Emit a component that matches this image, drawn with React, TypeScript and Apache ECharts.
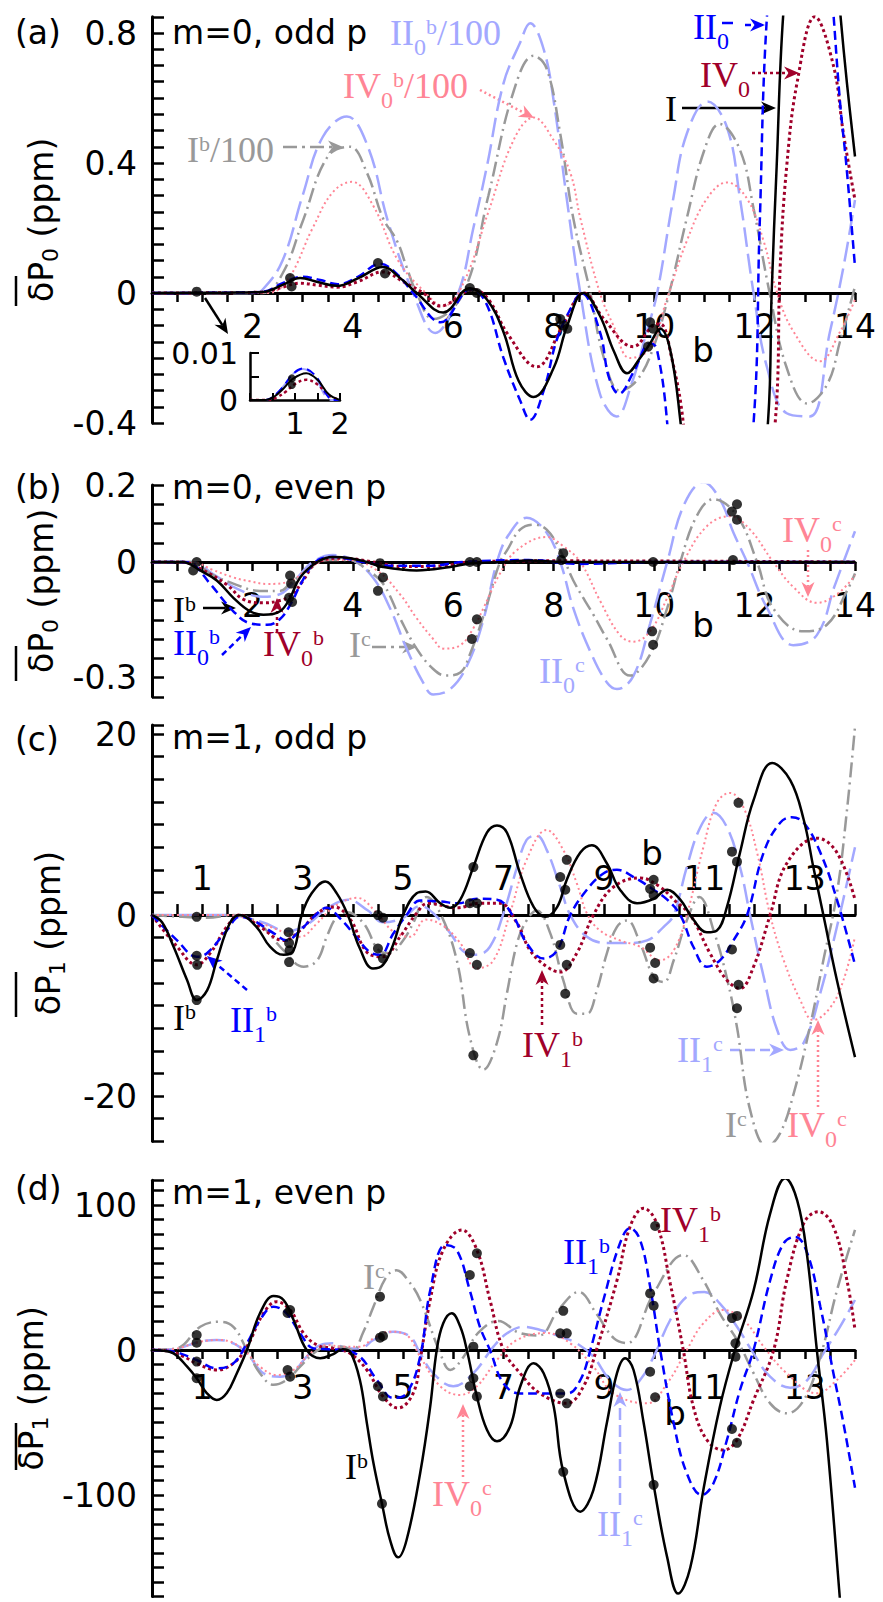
import React, { useEffect, useRef } from 'react';
import * as echarts from 'echarts';

const W = 883;
const H = 1602;

// ---------------- Panel (a): m=0, odd p ----------------
const a_I = [[0,0],[1.5,0.001],[2.2,0.003],[2.6,0.025],[2.95,0.046],[3.3,0.034],[3.68,0.022],[4.1,0.045],[4.6,0.08],[4.95,0.045],[5.27,0],[5.8,-0.06],[6.33,0.015],[6.67,-0.02],[7.0,-0.12],[7.3,-0.27],[7.6,-0.32],[8.0,-0.23],[8.27,-0.1],[8.59,0],[8.92,-0.07],[9.2,-0.18],[9.46,-0.247],[9.72,-0.2],[9.92,-0.155],[10.12,-0.11],[10.32,-0.175],[10.52,-0.39],[11.4,-1.6],[12.27,-0.39],[12.34,0],[12.44,0.39],[12.57,0.855],[13.1,1.9],[13.71,0.855],[13.84,0.645],[14,0.42]];
const a_II = [[0,0],[1.5,0.001],[2.2,0.004],[2.6,0.03],[3.0,0.05],[3.35,0.04],[3.7,0.027],[4.1,0.05],[4.54,0.09],[4.9,0.055],[5.2,0],[5.75,-0.09],[6.35,0.012],[6.65,-0.03],[7.0,-0.2],[7.33,-0.33],[7.53,-0.39],[7.8,-0.3],[8.07,-0.14],[8.4,-0.03],[8.55,0],[8.92,-0.12],[9.1,-0.26],[9.3,-0.31],[9.6,-0.24],[9.92,-0.155],[10.05,-0.17],[10.26,-0.4],[11.1,-2.0],[11.98,-0.4],[12.1,0.2],[12.25,0.86],[12.9,2.2],[13.57,0.86],[13.7,0.59],[13.83,0.39],[14,0.08]];
const a_IV = [[0,0],[1.5,0.001],[2.2,0.003],[2.6,0.018],[2.95,0.03],[3.3,0.024],[3.68,0.018],[4.1,0.035],[4.6,0.065],[5.0,0.035],[5.4,0],[5.74,-0.04],[6.4,0.01],[6.7,-0.02],[7.1,-0.13],[7.66,-0.227],[8.15,-0.11],[8.6,0],[9.0,-0.08],[9.58,-0.165],[9.98,-0.1],[10.12,-0.095],[10.35,-0.2],[10.58,-0.4],[11.5,-1.8],[12.41,-0.4],[12.51,0.08],[12.64,0.39],[12.85,0.65],[13.2,0.85],[13.57,0.7],[13.77,0.49],[14,0.286]];
const a_IIb100 = [[0,0],[0.9,0],[2.0,0],[2.2,0.01],[2.6,0.1],[3.0,0.3],[3.4,0.48],[3.88,0.543],[4.3,0.45],[4.7,0.22],[5.2,0],[5.64,-0.123],[6.1,0],[6.4,0.2],[6.67,0.39],[7.0,0.645],[7.33,0.77],[7.53,0.83],[7.8,0.75],[8.0,0.59],[8.26,0.29],[8.53,0],[8.92,-0.31],[9.25,-0.38],[9.55,-0.28],[9.85,-0.12],[10.06,0],[10.38,0.29],[10.65,0.49],[11.06,0.589],[11.45,0.51],[11.71,0.29],[11.98,0],[12.25,-0.23],[12.64,-0.37],[13.1,-0.38],[13.5,-0.12],[13.77,0.08],[14,0.286]];
const a_Ib100 = [[0,0],[2.2,0],[2.6,0.06],[3.0,0.22],[3.5,0.42],[3.94,0.45],[4.28,0.37],[4.6,0.23],[4.88,0.16],[5.07,0.08],[5.27,0],[5.6,-0.08],[6.2,0],[6.7,0.3],[7.2,0.62],[7.6,0.73],[7.86,0.69],[8.13,0.49],[8.39,0.23],[8.73,0],[9.0,-0.2],[9.32,-0.3],[9.65,-0.27],[9.98,-0.17],[10.3,0],[10.65,0.23],[11.0,0.44],[11.3,0.52],[11.71,0.44],[11.98,0.26],[12.3,0],[12.64,-0.23],[13.05,-0.34],[13.45,-0.28],[13.7,-0.15],[14,0.02]];
const a_IVb100 = [[0,0],[2.3,0],[2.7,0.04],[3.2,0.2],[3.6,0.31],[3.98,0.342],[4.4,0.27],[4.9,0.1],[5.45,0],[5.8,-0.04],[6.2,0.03],[6.7,0.25],[7.2,0.47],[7.6,0.54],[8.0,0.47],[8.33,0.37],[8.53,0.23],[8.92,0],[9.19,-0.1],[9.52,-0.2],[9.92,-0.17],[10.25,-0.02],[10.65,0.16],[11.05,0.29],[11.45,0.34],[11.85,0.29],[12.18,0.16],[12.45,0],[12.78,-0.12],[13.3,-0.21],[13.7,-0.12],[14,-0.02]];
const a_dots = [[0.89,0.004],[2.75,0.046],[2.78,0.02],[4.5,0.092],[4.64,0.06],[6.33,0.015],[6.47,0],[8.13,-0.08],[8.2,-0.1],[8.27,-0.11],[9.88,-0.165],[9.92,-0.09],[9.98,-0.11]];

// inset of (a)
const in_I = [[0,0],[0.35,0],[0.55,0.0008],[0.75,0.0025],[0.95,0.0045],[1.25,0.0057],[1.5,0.0043],[1.75,0.0012],[2,0]];
const in_II = [[0,0],[0.35,0],[0.55,0.001],[0.75,0.003],[0.95,0.0055],[1.18,0.0067],[1.45,0.0052],[1.7,0.0012],[1.85,0],[2,0]];
const in_IV = [[0,0],[0.4,0],[0.6,0.0006],[0.8,0.0018],[1.0,0.0034],[1.25,0.0043],[1.5,0.0033],[1.75,0.001],[2,0]];
const in_IIb = [[0,0],[0.35,0],[0.55,0.001],[0.75,0.003],[0.95,0.0055],[1.18,0.0066],[1.45,0.0048],[1.7,0.0005],[1.85,0],[2,0]];
const in_dots = [[0.93,0.0046],[0.93,0.0032]];

// ---------------- Panel (b): m=0, even p ----------------
const b_Ib = [[0,0],[0.6,0],[0.96,-0.022],[1.29,-0.048],[1.62,-0.093],[1.95,-0.128],[2.22,-0.137],[2.55,-0.128],[2.75,-0.093],[2.95,-0.04],[3.29,0],[3.6,0.013],[3.95,0.01],[4.28,0],[4.6,-0.013],[5.27,-0.022],[5.94,-0.013],[6.33,-0.004],[7.0,0],[7.5,0.004],[8.2,0],[14,0]];
const b_IIb = [[0,0],[0.6,0],[0.8,-0.005],[1.16,-0.057],[1.62,-0.128],[1.95,-0.159],[2.29,-0.163],[2.55,-0.148],[2.78,-0.105],[2.95,-0.06],[3.25,0],[3.6,0.013],[4.2,0],[4.8,-0.01],[5.5,-0.01],[6.2,0],[7.5,0.005],[8.5,-0.005],[10,0],[14,0]];
const b_IVb = [[0,0],[0.6,0],[1.0,-0.02],[1.5,-0.06],[1.82,-0.097],[2.22,-0.106],[2.55,-0.1],[2.8,-0.084],[3.0,-0.05],[3.3,0],[3.8,0.01],[4.4,0],[5.0,-0.012],[5.8,-0.01],[6.3,0],[8,0.003],[14,0]];
const b_Ic = [[0,0],[0.8,0],[1.16,-0.03],[1.62,-0.056],[2.15,-0.075],[2.55,-0.075],[2.75,-0.056],[3.09,-0.022],[3.5,0.005],[3.95,0.005],[4.28,-0.02],[4.6,-0.056],[4.94,-0.146],[5.27,-0.225],[5.6,-0.278],[5.85,-0.295],[6.14,-0.287],[6.33,-0.24],[6.6,-0.14],[6.93,0],[7.07,0.03],[7.33,0.084],[7.6,0.097],[7.86,0.084],[8.13,0.03],[8.39,-0.048],[8.79,-0.137],[9.06,-0.2],[9.52,-0.295],[9.92,-0.24],[10.26,-0.12],[10.52,0],[10.85,0.12],[11.18,0.163],[11.65,0.12],[12.05,0],[12.37,-0.12],[12.97,-0.18],[13.44,-0.163],[13.84,-0.075],[14,-0.03]];
const b_IIc = [[0,0],[0.8,0],[1.2,-0.03],[1.7,-0.07],[2.2,-0.09],[2.6,-0.08],[2.9,-0.04],[3.2,0],[3.6,0.018],[4.0,0.005],[4.4,-0.04],[4.74,-0.12],[5.07,-0.225],[5.4,-0.313],[5.6,-0.344],[5.94,-0.33],[6.27,-0.27],[6.6,-0.15],[6.87,0],[7.1,0.07],[7.46,0.115],[7.86,0.076],[8.13,0],[8.39,-0.12],[8.73,-0.233],[9.06,-0.313],[9.26,-0.33],[9.59,-0.295],[9.92,-0.16],[10.26,0],[10.6,0.15],[10.98,0.207],[11.31,0.163],[11.58,0.076],[11.85,0],[12.25,-0.12],[12.77,-0.216],[13.24,-0.19],[13.6,-0.06],[14,0.08]];
const b_IVc = [[0,0],[0.8,0],[1.2,-0.02],[1.62,-0.04],[1.95,-0.05],[2.29,-0.057],[2.75,-0.05],[3.09,-0.02],[3.5,0.005],[3.95,0.005],[4.48,-0.022],[4.94,-0.084],[5.27,-0.146],[5.6,-0.2],[5.8,-0.225],[6.14,-0.216],[6.4,-0.172],[6.6,-0.12],[6.93,-0.03],[7.26,0.03],[7.86,0.065],[8.2,0.04],[8.53,0],[8.92,-0.1],[9.32,-0.19],[9.59,-0.207],[9.92,-0.18],[10.26,-0.093],[10.58,0],[11.05,0.093],[11.51,0.119],[11.91,0.084],[12.37,0],[12.78,-0.066],[13.24,-0.106],[13.64,-0.084],[14,-0.035]];
const b_dots = [[0.82,-0.022],[0.89,0],[2.75,-0.035],[2.77,-0.056],[2.73,-0.093],[2.79,-0.104],[4.5,-0.075],[4.54,-0.003],[4.6,-0.04],[6.33,0],[6.47,0],[6.37,-0.2],[6.47,-0.149],[8.15,0.005],[8.19,0.023],[9.96,-0.18],[9.98,-0.215],[9.98,0],[11.57,0.005],[11.55,0.131],[11.65,0.15],[11.65,0.11]];

// ---------------- Panel (c): m=1, odd p ----------------
const c_Ib = [[0,0],[0.2,-0.8],[0.43,-3.5],[0.7,-7.2],[0.89,-9.4],[1.1,-8.3],[1.29,-5],[1.55,-0.9],[1.75,0],[2.08,-1.3],[2.35,-3.5],[2.62,-4.4],[2.82,-3.9],[2.98,0],[3.18,2.4],[3.45,3.7],[3.68,2.4],[3.9,0],[4.14,-3.7],[4.4,-5.9],[4.6,-5.5],[4.8,-3.3],[5.0,0],[5.27,2.4],[5.45,2.6],[5.74,1.3],[5.94,0.8],[6.14,1.7],[6.4,5.3],[6.67,9.1],[6.87,9.9],[7.07,9.1],[7.33,4.6],[7.6,0.9],[7.83,-0.2],[8.07,0.9],[8.26,3.9],[8.53,6.9],[8.76,7.7],[9.06,5.7],[9.32,2.8],[9.66,1.3],[9.99,1.8],[10.26,2.8],[10.52,1.7],[10.78,-0.5],[11.05,-1.9],[11.25,-1.7],[11.45,0.9],[11.71,6.9],[11.98,12.7],[12.35,16.8],[12.71,14.9],[12.98,10.5],[13.17,5.3],[13.37,0],[13.64,-7.2],[14,-15.7]];
const c_IIb = [[0,0],[0.5,-2.8],[0.89,-4.6],[1.1,-4.2],[1.49,-1.7],[1.75,-0.2],[2.02,-0.6],[2.42,-2],[2.68,-2.8],[2.95,-1.7],[3.22,-0.2],[3.48,0.8],[3.75,-0.4],[4.08,-2.5],[4.34,-4.1],[4.54,-4.4],[4.8,-2.1],[5.07,0],[5.34,1.6],[5.74,1.5],[6.1,1.3],[6.47,1.8],[6.87,1.7],[7.2,-0.2],[7.46,-3.1],[7.8,-4.8],[8.07,-3.9],[8.33,0],[8.66,2.8],[8.99,4.6],[9.26,5.0],[9.59,4.2],[9.99,2.8],[10.26,1.7],[10.52,0],[10.78,-3.5],[11.05,-5.7],[11.31,-5],[11.58,-2.8],[11.85,0],[12.18,6.9],[12.51,10.2],[12.74,10.8],[12.98,10.2],[13.31,6.9],[13.64,1.7],[14,-5.5]];
const c_IVb = [[0,0],[0.5,-3.5],[0.89,-5.5],[1.16,-4.2],[1.49,-1.3],[1.75,0],[2.15,-1.3],[2.62,-2.8],[2.95,-1.7],[3.29,0.2],[3.62,0.9],[3.95,-0.5],[4.28,-4.1],[4.6,-4.6],[4.94,-2.4],[5.27,0.2],[5.5,1.3],[6.07,0.8],[6.53,1.3],[6.93,1.3],[7.27,-0.9],[7.53,-3.9],[7.86,-5.7],[8.13,-6.3],[8.46,-4.2],[8.79,0],[9.19,3.1],[9.72,4.1],[10.12,3.1],[10.39,1.7],[10.72,0],[11.11,-4.2],[11.45,-7.2],[11.71,-8.1],[11.98,-5.7],[12.31,0],[12.64,5.7],[13.24,8.5],[13.64,6.9],[14,1.7]];
const c_Ic = [[0,0],[0.6,-0.2],[1.1,-0.3],[1.6,0],[2.1,-0.8],[2.62,-3.9],[3.02,-5.7],[3.29,-5],[3.48,-2.4],[3.68,-0.2],[3.88,0.3],[4.21,-0.9],[4.54,-4],[4.74,-4.2],[5.0,-2.8],[5.2,-0.9],[5.47,2],[5.74,0.2],[6.07,-5],[6.33,-13.5],[6.6,-17.1],[6.87,-14.1],[7.07,-8.6],[7.27,-3.1],[7.46,-0.6],[7.66,0.5],[7.93,-2],[8.19,-7.2],[8.46,-10.9],[8.66,-10.9],[8.86,-8.3],[9.06,-4.2],[9.26,-1.3],[9.46,-0.6],[9.72,-3.1],[9.99,-6.8],[10.19,-7.4],[10.39,-5],[10.65,-0.6],[10.9,2],[11.2,-2],[11.45,-7],[11.65,-12.4],[11.91,-21.5],[12.25,-25.6],[12.51,-24.1],[12.78,-19.7],[13.1,-12.4],[13.37,-5],[13.64,2.4],[13.84,11.6],[14,20.8]];
const c_IIc = [[0,0],[1.5,0],[2.2,-0.8],[2.7,-1.8],[3.1,-1.0],[3.5,0.8],[3.9,1.7],[4.3,0.5],[4.6,-0.8],[5.0,-0.3],[5.34,1.0],[5.6,0.2],[5.94,-2],[6.2,-4.0],[6.47,-4.4],[6.73,-3.5],[7.0,0.2],[7.27,5.3],[7.46,8.3],[7.66,8.8],[7.86,7.2],[8.13,3.1],[8.33,0],[8.66,-2.4],[9.06,-3.1],[9.46,-3.1],[9.86,-2.8],[10.19,-1.3],[10.39,0],[10.65,5.3],[10.92,9.7],[11.18,11.3],[11.45,9.7],[11.71,5.3],[11.91,0],[12.18,-6.8],[12.45,-12.7],[12.71,-14.9],[12.98,-14.1],[13.31,-8.6],[13.64,-1.3],[14,7.5]];
const c_IVc = [[0,0],[1.5,0],[2.2,-1.0],[2.68,-2],[2.95,-2.4],[3.29,-0.9],[3.62,0.9],[4.08,1.9],[4.48,0.2],[4.8,-1.8],[5.14,-2.4],[5.45,-0.5],[5.8,-1.2],[6.14,-3.1],[6.47,-5.9],[6.8,-5],[7.13,0.2],[7.46,6.1],[7.86,9.4],[8.19,7.2],[8.46,3.5],[8.66,0.2],[8.92,-1.7],[9.32,-2.8],[9.72,-3.5],[10.12,-5],[10.39,-3.9],[10.65,0],[10.98,7.5],[11.25,12.4],[11.51,13.5],[11.78,11.9],[12.05,6.9],[12.31,0],[12.58,-5],[12.91,-9.4],[13.17,-11.6],[13.51,-10.2],[13.77,-7.2],[14,-2.4]];
const c_dots = [[0.89,-0.2],[0.89,-4.5],[0.9,-5.5],[0.89,-9.4],[2.72,-1.9],[2.73,-3.1],[2.74,-3.9],[2.73,-5.2],[4.5,0],[4.6,-0.3],[4.5,-3.7],[4.6,-4.8],[6.4,5.3],[6.33,1.3],[6.47,1.3],[6.33,-4.2],[6.47,-5.5],[6.4,-15.5],[8.26,6.1],[8.13,4.2],[8.23,2.8],[8.13,-3.3],[8.26,-5.5],[8.23,-8.7],[9.99,3.9],[9.92,2.9],[9.99,2.2],[9.92,-3.6],[10.02,-5.3],[9.99,-7.0],[11.68,12.4],[11.55,7.0],[11.65,5.9],[11.55,-3.8],[11.68,-7.7],[11.65,-10.3]];

// ---------------- Panel (d): m=1, even p ----------------
const d_Ib = [[0,0],[0.2,-0.3],[0.43,-2.3],[0.7,-11.5],[0.89,-19.5],[1.09,-29.7],[1.29,-34.5],[1.49,-29.7],[1.69,-16],[1.89,0],[2.15,25.3],[2.42,37.2],[2.62,34.5],[2.82,20.7],[3.08,0],[3.35,-5.7],[3.6,-3],[3.8,0.5],[3.95,-1.5],[4.14,-20.7],[4.28,-50.6],[4.41,-78],[4.58,-106],[4.74,-131],[4.9,-143],[5.07,-131],[5.34,-85],[5.54,-39],[5.67,0],[5.8,18.4],[5.97,25.3],[6.14,16],[6.27,0],[6.47,-32],[6.67,-55],[6.87,-63],[7.13,-53],[7.33,-25.5],[7.6,-9.2],[7.8,-16],[8.0,-39],[8.19,-84],[8.53,-111.5],[8.79,-96.6],[9.06,-50],[9.26,-16],[9.42,-5.7],[9.59,-13.8],[9.79,-50],[9.99,-93],[10.26,-143],[10.48,-168],[10.72,-150],[10.98,-96.6],[11.31,-39],[11.61,0],[11.98,41],[12.31,94],[12.61,118.5],[12.85,103],[13.05,64],[13.24,0],[13.44,-62],[13.7,-172],[13.9,-260]];
const d_IIb = [[0,0],[0.3,-0.5],[0.56,-2.3],[0.89,-6.9],[1.29,-12.6],[1.62,-9.2],[1.89,4.6],[2.15,20.7],[2.42,29.9],[2.68,25.3],[2.95,11.5],[3.22,1.1],[3.5,0.5],[3.8,0],[4.14,-4.6],[4.48,-20.7],[4.8,-33],[5.07,-29.9],[5.34,-4.6],[5.54,41],[5.84,72.4],[6.07,69],[6.33,41],[6.53,16],[6.73,0],[7.0,-23],[7.33,-30],[7.73,-30],[8.27,-30],[8.53,-20.7],[8.73,0],[8.99,34.5],[9.32,73.6],[9.52,84],[9.72,75.9],[9.92,43.7],[10.12,0],[10.39,-50.6],[10.65,-85],[10.95,-100],[11.18,-92],[11.45,-62],[11.71,-27.6],[11.98,0],[12.31,48],[12.58,73.6],[12.81,78],[13.05,66.7],[13.31,29.9],[13.57,-16],[13.77,-50.6],[14,-95]];
const d_IVb = [[0,0],[0.3,-0.5],[0.6,-4],[0.89,-9.2],[1.29,-13.8],[1.62,-9.2],[1.89,2.3],[2.22,25.3],[2.48,33.3],[2.75,27.6],[3.02,11.5],[3.29,3.4],[3.62,1],[3.94,-2.3],[4.28,-13.8],[4.6,-32],[4.9,-40],[5.2,-29.9],[5.34,-6.9],[5.54,34.5],[5.8,69],[6.17,82.8],[6.47,69],[6.73,34.5],[7.0,0],[7.33,-16],[7.73,-30],[8.26,-36.8],[8.59,-25.3],[8.85,0],[9.26,48],[9.52,85],[9.79,97.7],[10.05,87.4],[10.32,46],[10.58,0],[10.78,-39],[11.05,-62],[11.38,-69],[11.65,-62],[11.98,-34.5],[12.38,0],[12.64,48],[12.98,87.4],[13.27,95.4],[13.57,85],[13.84,48],[14,13.8]];
const d_Ic = [[0,0],[0.3,0.5],[0.56,2],[0.96,16],[1.35,19.5],[1.62,16],[1.89,0],[2.15,-16],[2.42,-24],[2.68,-20.7],[2.95,-11.5],[3.22,-2.3],[3.48,2.3],[3.8,2.3],[4.0,0],[4.2,11.7],[4.41,29.9],[4.67,50.6],[4.87,55],[5.1,48],[5.34,34.5],[5.74,-2.3],[5.94,-13.8],[6.2,-5],[6.5,12],[6.9,20],[7.3,12],[7.7,10],[8.1,28],[8.5,40],[8.85,25],[9.2,8],[9.46,4.8],[9.99,39],[10.58,65.5],[10.98,48],[11.31,25],[11.65,7],[11.98,-16],[12.31,-36.8],[12.64,-43.7],[12.98,-34.5],[13.31,-4.6],[13.64,41],[14,82.8]];
const d_IIc = [[0,0],[0.4,0.5],[0.96,5.7],[1.29,6.9],[1.62,4.6],[1.89,-2.3],[2.22,-16],[2.55,-18.4],[2.82,-15],[3.08,-4.6],[3.35,3.4],[3.6,4.6],[3.88,1.1],[4.14,1],[4.41,6.9],[4.8,12.6],[5.14,9.2],[5.34,-2.3],[5.6,-16],[6.0,-25],[6.4,-16],[6.8,2.3],[7.07,11.5],[7.4,16],[7.73,13.8],[8.13,9.2],[8.46,4.6],[8.79,-4.6],[9.12,-20.7],[9.46,-27.6],[9.72,-20.7],[9.99,-4.6],[10.32,20.7],[10.65,36.8],[11.0,40],[11.31,32],[11.65,16],[11.98,-2.3],[12.31,-18.4],[12.71,-26],[13.05,-20.7],[13.37,-2.3],[13.7,16],[14,34.5]];
const d_IVc = [[0,0],[0.4,0.5],[0.96,5.7],[1.35,6.9],[1.75,2.3],[2.15,-11.5],[2.48,-17.2],[2.82,-13.8],[3.15,-2.3],[3.48,3.4],[3.8,2.3],[4.14,2.3],[4.41,8],[4.74,12.6],[5.07,10.3],[5.34,-4.6],[5.74,-25],[6.13,-31],[6.47,-25],[6.87,-6.9],[7.27,6.9],[7.86,11.7],[8.33,4.6],[8.79,-11.5],[9.19,-29.9],[9.86,-36.8],[10.26,-23],[10.65,0],[10.98,18.4],[11.38,27.6],[11.78,20.7],[12.18,2.3],[12.64,-16],[13.24,-29.9],[13.64,-20.7],[14,-6.9]];
const d_dots = [[0.89,10.3],[0.89,5],[0.89,-8],[0.89,-19.5],[2.7,25.5],[2.75,27.6],[2.7,-13.8],[2.75,-18.4],[4.54,36.8],[4.54,8.5],[4.6,9.7],[4.5,-25],[4.6,-32],[4.58,-106],[6.47,66.7],[6.33,51.7],[6.4,2.3],[6.4,-19.5],[6.33,-25],[6.47,-32],[8.19,27],[8.13,11.5],[8.26,11.5],[8.13,-30],[8.26,-36.8],[8.19,-84],[10.02,85.5],[9.92,39],[9.99,30.6],[9.92,-15],[10.02,-32.6],[9.99,-93],[11.55,22],[11.65,23.5],[11.62,4.6],[11.62,-4.6],[11.55,-54.5],[11.65,-64]];

// ---------------- styles ----------------
const SANS = 'DejaVu Sans';
const SERIF = 'Liberation Serif';
const C = { black: '#000000', blue: '#0000ff', red: '#a0002a', lav: '#a3a8ff', gray: '#999999', pink: '#ff8595' };
const S: any = {
  black: { color: C.black, width: 2.5, dash: 'solid' },
  blue: { color: C.blue, width: 2.5, dash: [9, 5] },
  red: { color: C.red, width: 3, dash: [3, 3] },
  lav: { color: C.lav, width: 2.5, dash: [20, 7] },
  gray: { color: C.gray, width: 2.5, dash: [15, 5, 2, 5] },
  pink: { color: C.pink, width: 2, dash: [2, 3] },
};

// panel layout
const GRID_A = { left: 152, top: 16.75, width: 703, height: 406.25 };
const GRID_IN = { left: 250, top: 353, width: 90, height: 47 };
const GRID_B = { left: 152, top: 485, width: 703, height: 211.75 };
const GRID_C = { left: 152, top: 725, width: 703, height: 416.3 };
const GRID_D = { left: 152, top: 1180.35, width: 703, height: 416.15 };
function zeroOffset(g: any, min: number, max: number) {
  return -g.height * (0 - min) / (max - min);
}

function lineS(name: string, data: number[][], sty: any, gi: number, w?: number) {
  return {
    type: 'line', name, data, xAxisIndex: gi, yAxisIndex: gi, smooth: 0.4,
    showSymbol: false, symbol: 'none', clip: true, silent: true,
    lineStyle: { color: sty.color, width: w || sty.width, type: sty.dash },
    itemStyle: { color: sty.color },
  };
}
function dotS(name: string, data: number[][], gi: number, size = 10) {
  return { type: 'scatter', name, data, xAxisIndex: gi, yAxisIndex: gi, symbol: 'circle', symbolSize: size, itemStyle: { color: '#000' }, silent: true, z: 5 };
}

let _ctx: any = null;
function mw(t: string, size: number, fam: string) {
  if (!_ctx) _ctx = document.createElement('canvas').getContext('2d');
  _ctx.font = `${size}px "${fam}"`;
  return _ctx.measureText(t).width;
}

function txt(x: number, y: number, t: string, size = 33, align = 'left', color = '#000', fam = SANS) {
  return { type: 'text', x, y, silent: true, style: { text: t, fill: color, fontSize: size, fontFamily: fam, align, verticalAlign: 'middle', textAlign: align, textVerticalAlign: 'middle' } };
}

// parts: [text, kind] kind m = main, b = subscript, p = superscript
function lab(x: number, y: number, parts: [string, string][], color: string) {
  const els: any[] = [];
  let cx = x;
  for (const [t, k] of parts) {
    const size = k === 'm' ? 36 : k === 'b' ? 24 : 22;
    const dy = k === 'm' ? 0 : k === 'b' ? 14 : -7;
    els.push(txt(cx, y + dy, t, size, 'left', color, SERIF));
    cx += mw(t, size, SERIF);
  }
  return els;
}

function arrow(x1: number, y1: number, x2: number, y2: number, color: string, dash: number[] | null, width = 2.5) {
  const dx = x2 - x1, dy = y2 - y1, L = Math.hypot(dx, dy);
  const ux = dx / L, uy = dy / L, nx = -uy, ny = ux;
  const hl = 15, hw = 6.5;
  const bx = x2 - ux * hl * 0.7, by = y2 - uy * hl * 0.7;
  return [
    { type: 'line', silent: true, shape: { x1, y1, x2: bx, y2: by }, style: { stroke: color, lineWidth: width, lineDash: dash || undefined } },
    { type: 'polygon', silent: true, shape: { points: [[x2, y2], [x2 - ux * hl + nx * hw, y2 - uy * hl + ny * hw], [bx, by], [x2 - ux * hl - nx * hw, y2 - uy * hl - ny * hw]] }, style: { fill: color } },
  ];
}
function seg(x1: number, y1: number, x2: number, y2: number, color = '#000', width = 2.5) {
  return { type: 'line', silent: true, shape: { x1, y1, x2, y2 }, style: { stroke: color, lineWidth: width } };
}

const evenFmt = (v: number) => { const r = Math.round(v * 2); return r % 4 === 0 && r > 0 ? String(r / 2) : ''; };
const oddFmt = (v: number) => { const r = Math.round(v * 2); return r % 4 === 2 ? String(r / 2) : ''; };

function mainX(gi: number, fmt: any, inside: boolean, margin: number, offset: number) {
  return {
    gridIndex: gi, type: 'value', min: 0, max: 14, interval: 0.5, position: 'bottom', offset,
    axisLine: { show: true, onZero: false, lineStyle: { color: '#000', width: 3 } },
    axisTick: { show: true, inside, length: inside ? 11 : 9, lineStyle: { color: '#000', width: 2.5 } },
    axisLabel: { show: true, inside, margin, color: '#000', fontSize: 33, fontFamily: SANS, formatter: fmt, showMinLabel: true, showMaxLabel: true },
    splitLine: { show: false },
  };
}
function mainY(gi: number, min: number, max: number, interval: number, fmt: any, sub: string) {
  return {
    gridIndex: gi, type: 'value', min, max, interval,
    axisLine: { show: true, onZero: false, lineStyle: { color: '#000', width: 3 } },
    axisTick: { show: true, inside: true, length: 12, lineStyle: { color: '#000', width: 2.5 } },
    axisLabel: { show: true, margin: 15, color: '#000', fontSize: 33, fontFamily: SANS, formatter: fmt, showMinLabel: true, showMaxLabel: true },
    splitLine: { show: false },
    name: `{a|δP}{s|${sub}}{a| (ppm)}`,
    nameLocation: 'middle', nameRotate: 90, nameGap: 84,
    nameTextStyle: {
      color: '#000', fontFamily: SANS, fontSize: 33,
      rich: {
        a: { fontFamily: SANS, fontSize: 33, lineHeight: 40, color: '#000' },
        s: { fontFamily: SANS, fontSize: 22, verticalAlign: 'bottom', color: '#000' },
      },
    },
  };
}

function buildOption() {
  const graphics: any[] = [
    // panel titles
    txt(15, 32, '(a)'), txt(172, 32, 'm=0, odd p'),
    txt(15, 487, '(b)'), txt(172, 487, 'm=0, even p'),
    txt(15, 739, '(c)'), txt(172, 737, 'm=1, odd p'),
    txt(15, 1188, '(d)'), txt(172, 1192, 'm=1, even p'),
    txt(703, 350, 'b', 34, 'center'), txt(703, 625, 'b', 34, 'center'),
    txt(652, 853, 'b', 34, 'center'), txt(675, 1413, 'b', 34, 'center'),
    // overlines of the y titles
    seg(16, 276, 16, 306), seg(16, 646, 16, 681), seg(16, 972, 16, 1017), seg(16, 1423, 16, 1470),
    // (a)
    ...lab(187, 150, [['I', 'm'], ['b', 'p'], ['/100', 'm']], C.gray),
    ...arrow(283, 147, 343, 147, C.gray, [14, 5, 3, 5]),
    ...lab(390, 33, [['II', 'm'], ['0', 'b'], ['b', 'p'], ['/100', 'm']], C.lav),
    ...lab(343, 86, [['IV', 'm'], ['0', 'b'], ['b', 'p'], ['/100', 'm']], C.pink),
    ...arrow(480, 90, 534, 118, C.pink, [2, 3]),
    ...lab(693, 27, [['II', 'm'], ['0', 'b']], C.blue),
    seg(722, 23, 733, 23, C.blue, 2.5),
    ...arrow(745, 25, 765, 25, C.blue, [6, 4]),
    ...lab(700, 75, [['IV', 'm'], ['0', 'b']], C.red),
    ...arrow(752, 73, 799, 73, C.red, [3, 3]),
    ...lab(665, 109, [['I', 'm']], C.black),
    ...arrow(682, 108, 776, 108, C.black, null),
    ...arrow(205, 298, 228, 334, C.black, null),
    // (b)
    ...lab(173, 610, [['I', 'm'], ['b', 'p']], C.black),
    ...arrow(203, 608, 236, 608, C.black, null),
    ...lab(173, 643, [['II', 'm'], ['0', 'b'], ['b', 'p']], C.blue),
    ...arrow(222, 655, 251, 627, C.blue, [6, 4]),
    ...lab(263, 644, [['IV', 'm'], ['0', 'b'], ['b', 'p']], C.red),
    ...arrow(277, 632, 277, 598, C.red, [3, 3]),
    ...lab(349, 645, [['I', 'm'], ['c', 'p']], C.gray),
    ...arrow(372, 647, 417, 647, C.gray, [14, 5, 3, 5]),
    ...lab(539, 671, [['II', 'm'], ['0', 'b'], ['c', 'p']], C.lav),
    ...lab(782, 530, [['IV', 'm'], ['0', 'b'], ['c', 'p']], C.pink),
    ...arrow(808, 550, 808, 597, C.pink, [2, 3]),
    // (c)
    ...lab(173, 1018, [['I', 'm'], ['b', 'p']], C.black),
    ...lab(230, 1020, [['II', 'm'], ['1', 'b'], ['b', 'p']], C.blue),
    ...arrow(247, 990, 207, 956, C.blue, [6, 4]),
    ...lab(522, 1045, [['IV', 'm'], ['1', 'b'], ['b', 'p']], C.red),
    ...arrow(542, 1025, 542, 970, C.red, [3, 3]),
    ...lab(677, 1050, [['II', 'm'], ['1', 'b'], ['c', 'p']], C.lav),
    ...arrow(730, 1050, 784, 1050, C.lav, [10, 5]),
    ...lab(725, 1125, [['I', 'm'], ['c', 'p']], C.gray),
    ...lab(787, 1125, [['IV', 'm'], ['0', 'b'], ['c', 'p']], C.pink),
    ...arrow(818, 1107, 818, 1020, C.pink, [2, 3]),
    // (d)
    ...lab(363, 1277, [['I', 'm'], ['c', 'p']], C.gray),
    ...lab(345, 1467, [['I', 'm'], ['b', 'p']], C.black),
    ...lab(432, 1494, [['IV', 'm'], ['0', 'b'], ['c', 'p']], C.pink),
    ...arrow(463, 1477, 463, 1404, C.pink, [2, 3]),
    ...lab(597, 1524, [['II', 'm'], ['1', 'b'], ['c', 'p']], C.lav),
    ...arrow(620, 1505, 620, 1392, C.lav, [12, 5]),
    ...lab(563, 1252, [['II', 'm'], ['1', 'b'], ['b', 'p']], C.blue),
    ...lab(660, 1220, [['IV', 'm'], ['1', 'b'], ['b', 'p']], C.red),
  ];

  const yaFmt = (v: number) => { const k = Math.round(v * 100); return k % 40 === 0 ? (k === 0 ? '0' : String(k / 100)) : ''; };
  const ybFmt = (v: number) => { const k = Math.round(v * 100); return k === 20 ? '0.2' : k === 0 ? '0' : k === -30 ? '-0.3' : ''; };
  const ycFmt = (v: number) => { const k = Math.round(v * 10); return k === 200 ? '20' : k === 0 ? '0' : k === -200 ? '-20' : ''; };
  const ydFmt = (v: number) => { const k = Math.round(v); return k === 100 ? '100' : k === 0 ? '0' : k === -100 ? '-100' : ''; };

  const insetX = {
    gridIndex: 1, type: 'value', min: 0, max: 2, interval: 0.5, position: 'bottom',
    axisLine: { show: true, onZero: false, lineStyle: { color: '#000', width: 2.5 } },
    axisTick: { show: true, inside: true, length: 7, lineStyle: { color: '#000', width: 2 } },
    axisLabel: { show: true, margin: 8, color: '#000', fontSize: 30, fontFamily: SANS, showMinLabel: true, showMaxLabel: true,
      formatter: (v: number) => { const r = Math.round(v * 2); return r === 2 ? '1' : r === 4 ? '2' : ''; } },
    splitLine: { show: false },
  };
  const insetY = {
    gridIndex: 1, type: 'value', min: 0, max: 0.01, interval: 0.005,
    axisLine: { show: true, onZero: false, lineStyle: { color: '#000', width: 2.5 } },
    axisTick: { show: true, inside: true, length: 9, lineStyle: { color: '#000', width: 2 } },
    axisLabel: { show: true, margin: 12, color: '#000', fontSize: 30, fontFamily: SANS, showMinLabel: true, showMaxLabel: true,
      formatter: (v: number) => { const k = Math.round(v * 1000); return k === 10 ? '0.01' : k === 0 ? '0' : ''; } },
    splitLine: { show: false },
  };

  return {
    animation: false,
    backgroundColor: '#ffffff',
    grid: [GRID_A, GRID_IN, GRID_B, GRID_C, GRID_D],
    xAxis: [
      mainX(0, evenFmt, false, 17, zeroOffset(GRID_A, -0.4, 0.85)),
      insetX,
      mainX(2, evenFmt, false, 27, zeroOffset(GRID_B, -0.35, 0.2)),
      mainX(3, oddFmt, true, 20, zeroOffset(GRID_C, -25, 21)),
      mainX(4, oddFmt, false, 21, zeroOffset(GRID_D, -170, 117)),
    ],
    yAxis: [mainY(0, -0.4, 0.85, 0.05, yaFmt, '0'), insetY, mainY(2, -0.35, 0.2, 0.05, ybFmt, '0'), mainY(3, -25, 21, 2.5, ycFmt, '1'), mainY(4, -170, 117, 10, ydFmt, '1')],
    series: [
      lineS('IIb/100', a_IIb100, S.lav, 0), lineS('Ib/100', a_Ib100, S.gray, 0), lineS('IVb/100', a_IVb100, S.pink, 0),
      lineS('IV0', a_IV, S.red, 0), lineS('II0', a_II, S.blue, 0), lineS('I', a_I, S.black, 0), dotS('pts a', a_dots, 0),
      lineS('inset II0b', in_IIb, S.lav, 1, 2), lineS('inset IV0', in_IV, S.red, 1, 2.5), lineS('inset II0', in_II, S.blue, 1, 2), lineS('inset I', in_I, S.black, 1, 2), dotS('pts inset', in_dots, 1, 8),
      lineS('II0c', b_IIc, S.lav, 2), lineS('Ic', b_Ic, S.gray, 2), lineS('IV0c', b_IVc, S.pink, 2),
      lineS('IV0b', b_IVb, S.red, 2), lineS('II0b', b_IIb, S.blue, 2), lineS('Ib', b_Ib, S.black, 2), dotS('pts b', b_dots, 2),
      lineS('II1c', c_IIc, S.lav, 3), lineS('Ic', c_Ic, S.gray, 3), lineS('IV0c', c_IVc, S.pink, 3),
      lineS('IV1b', c_IVb, S.red, 3), lineS('II1b', c_IIb, S.blue, 3), lineS('Ib', c_Ib, S.black, 3), dotS('pts c', c_dots, 3),
      lineS('II1c', d_IIc, S.lav, 4), lineS('Ic', d_Ic, S.gray, 4), lineS('IV0c', d_IVc, S.pink, 4),
      lineS('IV1b', d_IVb, S.red, 4), lineS('II1b', d_IIb, S.blue, 4), lineS('Ib', d_Ib, S.black, 4), dotS('pts d', d_dots, 4),
    ],
    graphic: { elements: graphics },
  };
}

export default function App() {
  const ref = useRef<HTMLDivElement>(null);
  useEffect(() => {
    const chart = echarts.init(ref.current as HTMLDivElement, null, { renderer: 'svg' });
    chart.setOption(buildOption() as any);
    return () => chart.dispose();
  }, []);
  return <div ref={ref} style={{ position: 'absolute', left: 0, top: 0, width: W, height: H, background: '#fff' }} />;
}
